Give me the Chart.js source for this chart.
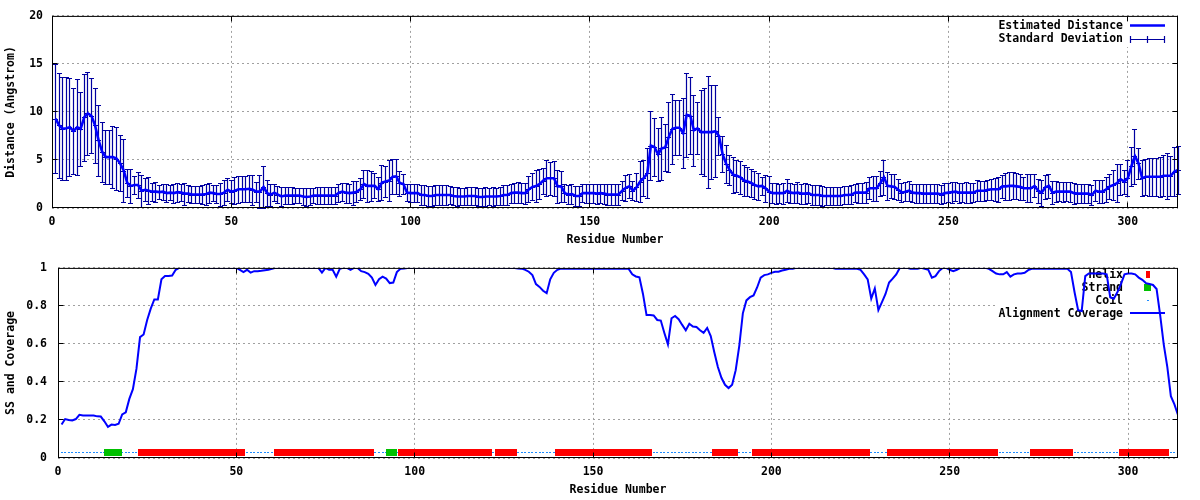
<!DOCTYPE html>
<html>
<head>
<meta charset="utf-8">
<script src="https://cdn.jsdelivr.net/npm/chart.js@4.4.1/dist/chart.umd.min.js"></script>
<style>
html, body { margin: 0; padding: 0; background: #fff; }
.panel { position: absolute; left: 0; width: 1200px; height: 250px; }
</style>
</head>
<body>
<div class="panel" style="top:0"><canvas id="distChart" width="1200" height="250"></canvas></div>
<div class="panel" style="top:250px"><canvas id="covChart" width="1200" height="250"></canvas></div>
<script>
// ---------------- DATA ----------------
const distance = [
  9.3, 8.6, 8.25, 8.3, 8.4, 8.0, 8.4, 8.25, 9.45, 9.85,
  9.6, 8.6, 7.05, 5.85, 5.3, 5.3, 5.3, 5.15, 4.65, 3.9,
  2.6, 2.3, 2.4, 2.4, 1.8, 1.9, 1.8, 1.7, 1.7, 1.65,
  1.7, 1.55, 1.6, 1.55, 1.65, 1.6, 1.5, 1.5, 1.4, 1.4,
  1.4, 1.4, 1.45, 1.6, 1.55, 1.45, 1.45, 1.6, 1.9, 1.7,
  1.8, 1.95, 1.95, 1.95, 2.0, 1.9, 1.7, 1.7, 2.2, 1.55,
  1.4, 1.6, 1.4, 1.2, 1.3, 1.3, 1.3, 1.3, 1.3, 1.2,
  1.15, 1.2, 1.3, 1.3, 1.3, 1.3, 1.3, 1.3, 1.3, 1.6,
  1.7, 1.6, 1.55, 1.6, 1.7, 1.95, 2.5, 2.3, 2.3, 2.3,
  1.95, 2.65, 2.75, 2.85, 3.25, 3.3, 2.6, 2.5, 1.6, 1.55,
  1.55, 1.55, 1.35, 1.35, 1.25, 1.25, 1.35, 1.35, 1.35, 1.35,
  1.35, 1.25, 1.2, 1.2, 1.2, 1.25, 1.25, 1.25, 1.15, 1.15,
  1.2, 1.2, 1.2, 1.2, 1.25, 1.35, 1.35, 1.55, 1.6, 1.6,
  1.55, 1.55, 1.95, 2.2, 2.3, 2.5, 2.85, 3.1, 3.1, 3.1,
  2.25, 2.25, 1.55, 1.4, 1.45, 1.25, 1.25, 1.55, 1.55, 1.55,
  1.55, 1.5, 1.55, 1.5, 1.4, 1.4, 1.4, 1.4, 1.8, 2.1,
  2.25, 1.8, 2.15, 2.75, 3.1, 3.6, 6.5, 6.35, 5.6, 6.2,
  6.3, 7.4, 8.25, 8.35, 8.35, 7.8, 9.7, 9.6, 8.1, 8.3,
  7.9, 7.9, 7.9, 7.9, 8.0, 7.5, 5.6, 4.6, 3.95, 3.45,
  3.35, 3.2, 2.85, 2.75, 2.6, 2.4, 2.25, 2.3, 2.05, 1.7,
  1.55, 1.55, 1.55, 1.55, 1.8, 1.6, 1.55, 1.6, 1.5, 1.5,
  1.55, 1.35, 1.35, 1.35, 1.25, 1.25, 1.25, 1.25, 1.25, 1.25,
  1.35, 1.35, 1.4, 1.6, 1.6, 1.6, 1.6, 2.05, 2.05, 2.05,
  2.6, 3.2, 2.3, 2.25, 2.2, 1.9, 1.6, 1.7, 1.8, 1.6,
  1.55, 1.55, 1.5, 1.5, 1.5, 1.5, 1.5, 1.4, 1.55, 1.6,
  1.65, 1.7, 1.6, 1.6, 1.6, 1.6, 1.6, 1.8, 1.8, 1.8,
  1.9, 1.95, 1.95, 1.95, 2.25, 2.25, 2.3, 2.3, 2.25, 2.2,
  2.05, 2.05, 2.05, 2.3, 1.8, 1.6, 2.15, 2.3, 1.6, 1.7,
  1.7, 1.7, 1.7, 1.7, 1.55, 1.5, 1.5, 1.5, 1.5, 1.35,
  1.8, 1.7, 1.7, 1.95, 2.25, 2.4, 2.6, 3.0, 2.75, 3.1,
  4.35, 5.4, 4.65, 3.1, 3.25, 3.25, 3.25, 3.25, 3.25, 3.35,
  3.35, 3.35, 3.8, 3.95
];

const stdDev = [
  5.7, 5.5, 5.35, 5.35, 5.1, 4.5, 5.0, 3.85, 4.55, 4.35,
  3.9, 3.9, 3.7, 3.15, 2.8, 2.8, 3.2, 3.3, 2.9, 3.3,
  1.5, 1.8, 0.9, 1.4, 1.65, 1.2, 1.4, 0.95, 1.05, 0.75,
  0.85, 0.95, 0.8, 1.0, 1.0, 0.9, 1.15, 0.9, 0.85, 0.85,
  0.85, 1.0, 1.1, 1.05, 0.85, 0.95, 1.2, 1.3, 1.2, 1.2,
  1.4, 1.4, 1.35, 1.35, 1.4, 1.55, 1.05, 1.75, 2.15, 1.35,
  1.15, 0.9, 0.9, 0.95, 0.85, 0.85, 0.9, 0.75, 0.75, 0.85,
  0.9, 0.85, 0.75, 0.9, 0.85, 0.9, 0.85, 0.85, 0.85, 0.95,
  0.95, 1.05, 1.0, 1.25, 1.1, 1.15, 1.45, 1.7, 1.6, 1.3,
  1.25, 1.8, 1.6, 2.15, 1.8, 1.85, 1.3, 1.0, 0.9, 0.95,
  0.95, 0.9, 1.0, 1.0, 1.05, 1.0, 1.0, 1.05, 1.0, 1.0,
  0.95, 0.9, 0.95, 0.9, 0.9, 0.95, 0.9, 0.95, 0.9, 0.95,
  0.95, 0.9, 0.95, 0.9, 0.95, 1.0, 1.05, 1.0, 1.05, 1.1,
  1.05, 1.1, 1.35, 1.4, 1.7, 1.6, 1.35, 1.9, 1.7, 1.8,
  1.7, 1.65, 0.95, 1.0, 1.0, 1.05, 1.05, 0.95, 1.0, 1.0,
  1.0, 1.05, 1.0, 1.05, 1.1, 1.1, 1.05, 1.1, 1.0, 1.35,
  1.25, 1.0, 1.45, 2.15, 1.9, 2.6, 3.6, 3.05, 2.75, 3.3,
  2.4, 3.6, 3.65, 2.85, 2.85, 3.65, 4.4, 4.0, 3.7, 2.7,
  4.4, 4.6, 5.85, 4.9, 4.8, 2.0, 1.9, 2.0, 1.55, 1.85,
  1.65, 1.7, 1.6, 1.55, 1.5, 1.5, 1.4, 0.9, 1.4, 1.6,
  1.05, 1.1, 1.0, 1.1, 1.2, 1.05, 1.0, 1.1, 1.05, 1.1,
  1.0, 1.0, 1.05, 1.0, 1.0, 0.95, 0.95, 0.9, 0.95, 0.9,
  0.95, 0.9, 1.0, 0.95, 1.05, 1.05, 1.1, 1.15, 1.3, 1.3,
  1.3, 1.8, 1.5, 1.25, 1.3, 1.1, 1.0, 1.0, 1.05, 0.95,
  1.0, 1.0, 0.95, 1.0, 0.95, 1.0, 1.0, 1.0, 1.05, 1.0,
  1.1, 1.0, 1.05, 1.0, 1.1, 1.05, 1.0, 1.1, 1.05, 1.05,
  1.05, 1.1, 1.2, 1.3, 1.2, 1.4, 1.45, 1.4, 1.35, 1.35,
  1.2, 1.45, 1.45, 1.2, 1.25, 1.35, 1.25, 1.25, 1.2, 1.1,
  1.0, 1.05, 1.0, 1.05, 1.1, 1.0, 0.95, 1.0, 1.0, 1.05,
  1.1, 1.2, 1.2, 1.3, 1.3, 1.6, 1.95, 1.6, 1.25, 1.9,
  2.05, 2.85, 1.6, 1.9, 1.9, 1.95, 2.0, 2.0, 2.1, 2.15,
  2.4, 2.1, 2.5, 2.5
];

const coverage = [
  0.176, 0.205, 0.200, 0.198, 0.205, 0.227, 0.224, 0.224, 0.224, 0.224,
  0.219, 0.218, 0.193, 0.164, 0.176, 0.174, 0.180, 0.229, 0.240, 0.311,
  0.362, 0.470, 0.636, 0.650, 0.726, 0.786, 0.834, 0.834, 0.940, 0.957,
  0.957, 0.960, 0.990, 1, 1, 1, 1, 1, 1, 1,
  1, 1, 1, 1, 1, 1, 1, 1, 1, 1,
  0.990, 0.978, 0.990, 0.975, 0.983, 0.983, 0.985, 0.988, 0.990, 0.995,
  1, 1, 1, 1, 1, 1, 1, 1, 1, 1,
  1, 1, 1, 0.975, 1, 0.990, 0.990, 0.954, 0.995, 1,
  1, 0.990, 1, 1, 0.983, 0.978, 0.969, 0.949, 0.910, 0.940,
  0.954, 0.944, 0.920, 0.923, 0.978, 0.995, 0.997, 1, 1, 1,
  1, 1, 1, 1, 1, 1, 1, 1, 1, 1,
  1, 1, 1, 1, 1, 1, 1, 1, 1, 1,
  1, 1, 1, 1, 1, 1, 1, 1, 0.997, 0.996,
  0.990, 0.980, 0.962, 0.915, 0.900, 0.880, 0.867, 0.940, 0.974, 0.990,
  0.997, 0.995, 0.995, 0.995, 0.995, 0.995, 0.995, 0.995, 0.995, 0.995,
  0.995, 0.995, 0.995, 0.995, 0.995, 0.995, 0.995, 0.995, 0.995, 0.995,
  0.966, 0.955, 0.950, 0.863, 0.752, 0.752, 0.750, 0.726, 0.723, 0.658,
  0.598, 0.735, 0.747, 0.730, 0.700, 0.672, 0.706, 0.692, 0.689, 0.672,
  0.658, 0.684, 0.641, 0.556, 0.479, 0.422, 0.385, 0.368, 0.385, 0.462,
  0.590, 0.761, 0.829, 0.846, 0.855, 0.897, 0.949, 0.962, 0.966, 0.974,
  0.980, 0.980, 0.986, 0.990, 0.995, 0.995, 1, 1, 1, 1,
  1, 1, 1, 1, 1, 1, 1, 0.995, 0.995, 0.995,
  0.995, 0.995, 0.995, 0.995, 0.990, 0.966, 0.940, 0.838, 0.892, 0.778,
  0.820, 0.863, 0.923, 0.944, 0.966, 1, 1, 1, 0.995, 0.995,
  0.995, 1, 0.995, 0.990, 0.949, 0.957, 0.983, 1, 1, 0.990,
  0.983, 0.990, 1, 1, 1, 1, 1, 1, 1, 1,
  0.995, 0.983, 0.970, 0.966, 0.966, 0.978, 0.954, 0.966, 0.971, 0.971,
  0.974, 0.988, 0.995, 0.995, 0.995, 0.995, 0.995, 0.995, 0.995, 0.995,
  0.995, 0.995, 0.995, 0.978, 0.872, 0.778, 0.773, 0.957, 0.971, 0.971,
  0.971, 0.971, 0.971, 0.966, 0.846, 0.838, 0.872, 0.915, 0.966, 0.971,
  0.971, 0.966, 0.949, 0.937, 0.920, 0.915, 0.910, 0.889, 0.752, 0.598,
  0.479, 0.325, 0.282, 0.226
];

// Secondary structure segments (residue ranges)
const ssType  = ['C','E','C','H','C','H','C','E','C','H','C','H','C','H','C','H','C','H','C','H','C','H','C','H','C'];
const ssStart = [1, 14, 18, 23, 53, 61, 89, 93, 95, 96, 122, 123, 129, 140, 167, 184, 191, 195, 228, 233, 264, 273, 285, 298, 312];
const ssEnd   = [13, 17, 22, 52, 60, 88, 92, 94, 95, 121, 122, 128, 139, 166, 183, 190, 194, 227, 232, 263, 272, 284, 297, 311, 314];
const ssLevel = 0.03;   // height at which the SS track is plotted

const distTicks = [0, 5, 10, 15, 20];
const covTicks = [0, 0.2, 0.4, 0.6, 0.8, 1];
const residueTicks = [0, 50, 100, 150, 200, 250, 300];

// ---------------- HELPERS ----------------
const residues = distance.map((_, i) => i + 1);
function ssOf(r) {
  for (let k = 0; k < ssType.length; k++) if (r >= ssStart[k] && r <= ssEnd[k]) return ssType[k];
  return 'C';
}
const ssPoints = t => residues.filter(r => ssOf(r) === t).map(r => ({ x: r, y: ssLevel }));

const FONT_FAMILY = '"DejaVu Sans Mono", monospace';
const FONT_SIZE = 11.5;
const CSS_FONT = 'bold ' + FONT_SIZE + 'px ' + FONT_FAMILY;
Chart.defaults.font.family = FONT_FAMILY;
Chart.defaults.font.size = FONT_SIZE;
Chart.defaults.font.weight = 'bold';
Chart.defaults.color = '#000';

const BLUE = '#0000ff', NAVY = '#0000a0', RED = '#ff0000', GREEN = '#00c000', COIL = '#1e8cff', GRID = '#a0a0a0';

function markerCanvas(w, h, color) {
  const c = document.createElement('canvas');
  c.width = w; c.height = h;
  const g = c.getContext('2d');
  g.fillStyle = color; g.fillRect(0, 0, w, h);
  return c;
}
const helixMark = markerCanvas(4, 7, RED);
const strandMark = markerCanvas(7, 7, GREEN);
const coilMark = markerCanvas(2, 1, COIL);

function alignPx(p) { return Math.round(p - 0.5) + 0.5; }
const tickText = v => String(Math.round(v * 10) / 10);

// frame + inward tick marks on all four sides (gnuplot style)
const frameTicks = {
  id: 'frameTicks',
  afterDatasetsDraw(chart) {
    const { ctx, chartArea: a, scales: { x, y } } = chart;
    const L = a.left + 0.5, R = a.right - 0.5, T = a.top + 0.5, B = a.bottom - 0.5;
    ctx.save();
    ctx.strokeStyle = '#000';
    ctx.lineWidth = 1;
    ctx.setLineDash([]);
    ctx.beginPath();
    x.ticks.forEach(t => {
      const px = alignPx(x.getPixelForValue(t.value));
      if (px <= L + 1 || px >= R - 1) return;
      ctx.moveTo(px, B); ctx.lineTo(px, B - 5);
      ctx.moveTo(px, T); ctx.lineTo(px, T + 5);
    });
    y.ticks.forEach(t => {
      const py = alignPx(y.getPixelForValue(t.value));
      if (py <= T + 1 || py >= B - 1) return;
      ctx.moveTo(L, py); ctx.lineTo(L + 5, py);
      ctx.moveTo(R, py); ctx.lineTo(R - 5, py);
    });
    ctx.stroke();
    ctx.strokeRect(L, T, R - L, B - T);
    ctx.restore();
  }
};

function axisX() {
  return {
    type: 'linear', min: 0, max: 314,
    afterBuildTicks: s => { s.ticks = residueTicks.map(v => ({ value: v })); },
    ticks: { padding: 7, maxRotation: 0, autoSkip: false, callback: tickText },
    grid: { color: GRID, lineWidth: 1, drawTicks: false },
    border: { display: false, dash: [2, 3] },
    title: { display: true, text: 'Residue Number', padding: { top: 3, bottom: 3 } },
    afterFit: s => { s.height = 42; }
  };
}

// ---------------- CHART 1 : distance ----------------
const errorBars = {
  id: 'errorBars',
  beforeDatasetsDraw(chart) {
    const { ctx, scales: { x, y } } = chart;
    ctx.save();
    ctx.strokeStyle = NAVY;
    ctx.lineWidth = 1.2;
    ctx.beginPath();
    residues.forEach((r, i) => {
      const px = alignPx(x.getPixelForValue(r));
      const lo = Math.round(y.getPixelForValue(distance[i] - stdDev[i])) + 0.5;
      const hi = Math.round(y.getPixelForValue(distance[i] + stdDev[i])) + 0.5;
      const mid = Math.round(y.getPixelForValue(distance[i])) + 0.5;
      ctx.moveTo(px, lo); ctx.lineTo(px, hi);
      ctx.moveTo(px - 2.5, lo); ctx.lineTo(px + 2.5, lo);
      ctx.moveTo(px - 2.5, hi); ctx.lineTo(px + 2.5, hi);
      ctx.moveTo(px - 2.5, mid); ctx.lineTo(px + 2.5, mid);
    });
    ctx.stroke();
    ctx.restore();
  }
};

const distLegend = {
  id: 'distLegend',
  beforeDatasetsDraw(chart) {
    const { ctx, chartArea: a } = chart;
    ctx.save();
    ctx.fillStyle = '#fff';
    ctx.fillRect(998, a.top + 1, a.right - 1 - 998, 46 - a.top);
    ctx.font = CSS_FONT;
    ctx.fillStyle = '#000';
    ctx.textAlign = 'right';
    ctx.textBaseline = 'middle';
    ctx.fillText('Estimated Distance', 1123, 26);
    ctx.fillText('Standard Deviation', 1123, 39);
    ctx.strokeStyle = BLUE; ctx.lineWidth = 2.5;
    ctx.beginPath(); ctx.moveTo(1130, 25.5); ctx.lineTo(1165, 25.5); ctx.stroke();
    ctx.strokeStyle = NAVY; ctx.lineWidth = 1.2;
    ctx.beginPath();
    ctx.moveTo(1130, 39.5); ctx.lineTo(1165, 39.5);
    ctx.moveTo(1130.5, 36); ctx.lineTo(1130.5, 43);
    ctx.moveTo(1164.5, 36); ctx.lineTo(1164.5, 43);
    ctx.moveTo(1147.5, 36); ctx.lineTo(1147.5, 43);
    ctx.stroke();
    ctx.restore();
  }
};

new Chart(document.getElementById('distChart'), {
  type: 'line',
  data: {
    datasets: [{
      label: 'Estimated Distance',
      data: residues.map((r, i) => ({ x: r, y: distance[i] })),
      borderColor: BLUE, borderWidth: 2.6, pointRadius: 0, tension: 0, fill: false
    }]
  },
  options: {
    responsive: false, animation: false, devicePixelRatio: 1,
    layout: { padding: { top: 14, right: 22, left: 0, bottom: 0 } },
    plugins: { legend: { display: false }, tooltip: { enabled: false } },
    scales: {
      x: axisX(),
      y: {
        min: 0, max: 20,
        afterBuildTicks: s => { s.ticks = distTicks.map(v => ({ value: v })); },
        ticks: { padding: 9, callback: tickText },
        grid: { color: GRID, lineWidth: 1, drawTicks: false },
        border: { display: false, dash: [2, 3] },
        title: { display: true, text: 'Distance (Angstrom)', padding: { top: 4, bottom: 0 } },
        afterFit: s => { s.width = 52; }
      }
    }
  },
  plugins: [errorBars, distLegend, frameTicks]
});

// ---------------- CHART 2 : SS and coverage ----------------
const covLegend = {
  id: 'covLegend',
  beforeDatasetsDraw(chart) {
    const { ctx, chartArea: a } = chart;
    ctx.save();
    ctx.fillStyle = '#fff';
    ctx.fillRect(998, a.top + 1, a.right - 1 - 998, 70 - a.top);
    ctx.font = CSS_FONT;
    ctx.fillStyle = '#000';
    ctx.textAlign = 'right';
    ctx.textBaseline = 'middle';
    ctx.fillText('Helix', 1123, 25.5);
    ctx.fillText('Strand', 1123, 38);
    ctx.fillText('Coil', 1123, 51);
    ctx.fillText('Alignment Coverage', 1123, 64);
    ctx.drawImage(helixMark, 1146, 21);
    ctx.drawImage(strandMark, 1144, 34);
    ctx.drawImage(coilMark, 1147, 50);
    ctx.strokeStyle = BLUE; ctx.lineWidth = 2;
    ctx.beginPath(); ctx.moveTo(1130, 63); ctx.lineTo(1165, 63); ctx.stroke();
    ctx.restore();
  }
};

new Chart(document.getElementById('covChart'), {
  type: 'line',
  data: {
    datasets: [
      {
        label: 'Alignment Coverage',
        data: residues.map((r, i) => ({ x: r, y: coverage[i] })),
        borderColor: BLUE, borderWidth: 2, pointRadius: 0, tension: 0, fill: false
      },
      {
        label: 'Helix', data: ssPoints('H'), showLine: false,
        pointStyle: helixMark, pointRadius: 3, pointHoverRadius: 3
      },
      {
        label: 'Strand', data: ssPoints('E'), showLine: false,
        pointStyle: strandMark, pointRadius: 3, pointHoverRadius: 3
      },
      {
        label: 'Coil', data: ssPoints('C'), showLine: false,
        pointStyle: coilMark, pointRadius: 3, pointHoverRadius: 3
      }
    ]
  },
  options: {
    responsive: false, animation: false, devicePixelRatio: 1,
    layout: { padding: { top: 13, right: 22, left: 0, bottom: 0 } },
    plugins: { legend: { display: false }, tooltip: { enabled: false } },
    scales: {
      x: axisX(),
      y: {
        min: 0, max: 1,
        afterBuildTicks: s => { s.ticks = covTicks.map(v => ({ value: v })); },
        ticks: { padding: 11, callback: tickText },
        grid: { color: GRID, lineWidth: 1, drawTicks: false },
        border: { display: false, dash: [2, 3] },
        title: { display: true, text: 'SS and Coverage', padding: { top: 4, bottom: 0 } },
        afterFit: s => { s.width = 58; }
      }
    }
  },
  plugins: [covLegend, frameTicks]
});
</script>
</body>
</html>
